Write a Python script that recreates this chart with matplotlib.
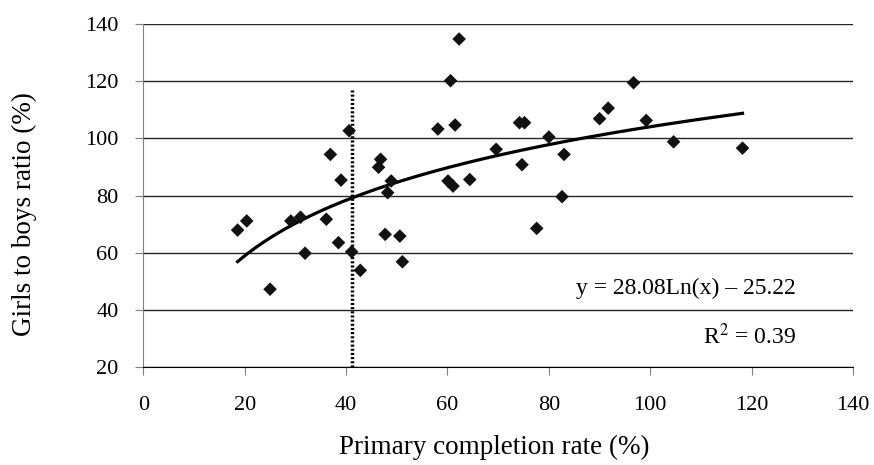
import numpy as np
import matplotlib
matplotlib.use("Agg")
import matplotlib.pyplot as plt

# Primary completion rate (%) vs girls to boys ratio (%)
completion = [18.6, 20.4, 25.0, 29.1, 31.0, 31.9, 36.1, 36.9, 38.5, 39.0,
              40.6, 41.1, 42.8, 46.4, 46.8, 47.7, 48.2, 48.9, 50.6, 51.1,
              58.1, 60.1, 60.6, 61.1, 61.5, 62.3, 64.4, 69.6, 74.2, 74.7,
              75.2, 77.6, 80.0, 82.6, 83.0, 90.0, 91.7, 96.7, 99.2, 104.6,
              118.2]
girls_ratio = [67.9, 71.1, 47.2, 71.1, 72.4, 59.8, 71.7, 94.4, 63.5, 85.4,
               102.7, 60.3, 53.8, 89.9, 92.7, 66.4, 81.0, 85.1, 65.8, 56.8,
               103.3, 85.1, 120.2, 83.3, 104.7, 134.8, 85.6, 96.2, 105.5, 90.8,
               105.5, 68.5, 100.5, 79.6, 94.4, 106.9, 110.6, 119.5, 106.3, 98.8,
               96.6]

# logarithmic trendline coefficients (as printed on the chart)
trend_a = 28.08
trend_b = -25.22
r_squared = 0.39

# vertical reference line
ref_x = 41.2
ref_top = 117

x_ticks = [0, 20, 40, 60, 80, 100, 120, 140]
y_ticks = [20, 40, 60, 80, 100, 120, 140]

plt.rcParams['font.family'] = ['Liberation Serif', 'DejaVu Serif']

fig = plt.figure(figsize=(8.74, 4.65), dpi=100)
ax = fig.add_axes([0.164, 0.211, 0.812, 0.737])

# gridlines
for yv in y_ticks:
    ax.axhline(yv, color='#262626', lw=1.0, zorder=1)

# trendline
xs = np.linspace(min(completion), max(completion), 200)
ax.plot(xs, trend_a * np.log(xs) + trend_b, color='black', lw=2.3, zorder=3)

# vertical dotted line
ax.plot([ref_x, ref_x], [20, ref_top], color='black', lw=2.5,
        linestyle=(0, (0.6, 0.6)), zorder=2)

# data points
ax.scatter(completion, girls_ratio, marker='D', s=48, color='#111111',
           edgecolors='none', zorder=4)

ax.set_xlim(0, 140)
ax.set_ylim(20, 140)
ax.set_xticks(x_ticks)
ax.set_yticks(y_ticks)

for s in ['top', 'right']:
    ax.spines[s].set_visible(False)
ax.spines['left'].set_color('#808080')
ax.spines['bottom'].set_color('black')
ax.tick_params(axis='both', direction='out', length=5.8, color='#808080',
               labelsize=16, pad=12)
ax.tick_params(axis='x', pad=15)

ax.set_xlabel('Primary completion rate (%)', fontsize=19.5, va='center')
ax.xaxis.set_label_coords(0.494, -0.236)
ax.set_ylabel('Girls to boys ratio (%)', fontsize=19.5, va='center')
ax.yaxis.set_label_coords(-0.168, 0.446)

ax.text(128.8, 47.6, 'y = 28.08Ln(x) \u2013 25.22', fontsize=17,
        ha='right', va='center')
ax.text(128.8, 30.8, 'R$^2$ = %.2f' % r_squared, fontsize=17,
        ha='right', va='center', math_fontfamily='stix')

fig.savefig('out.png', dpi=100)
